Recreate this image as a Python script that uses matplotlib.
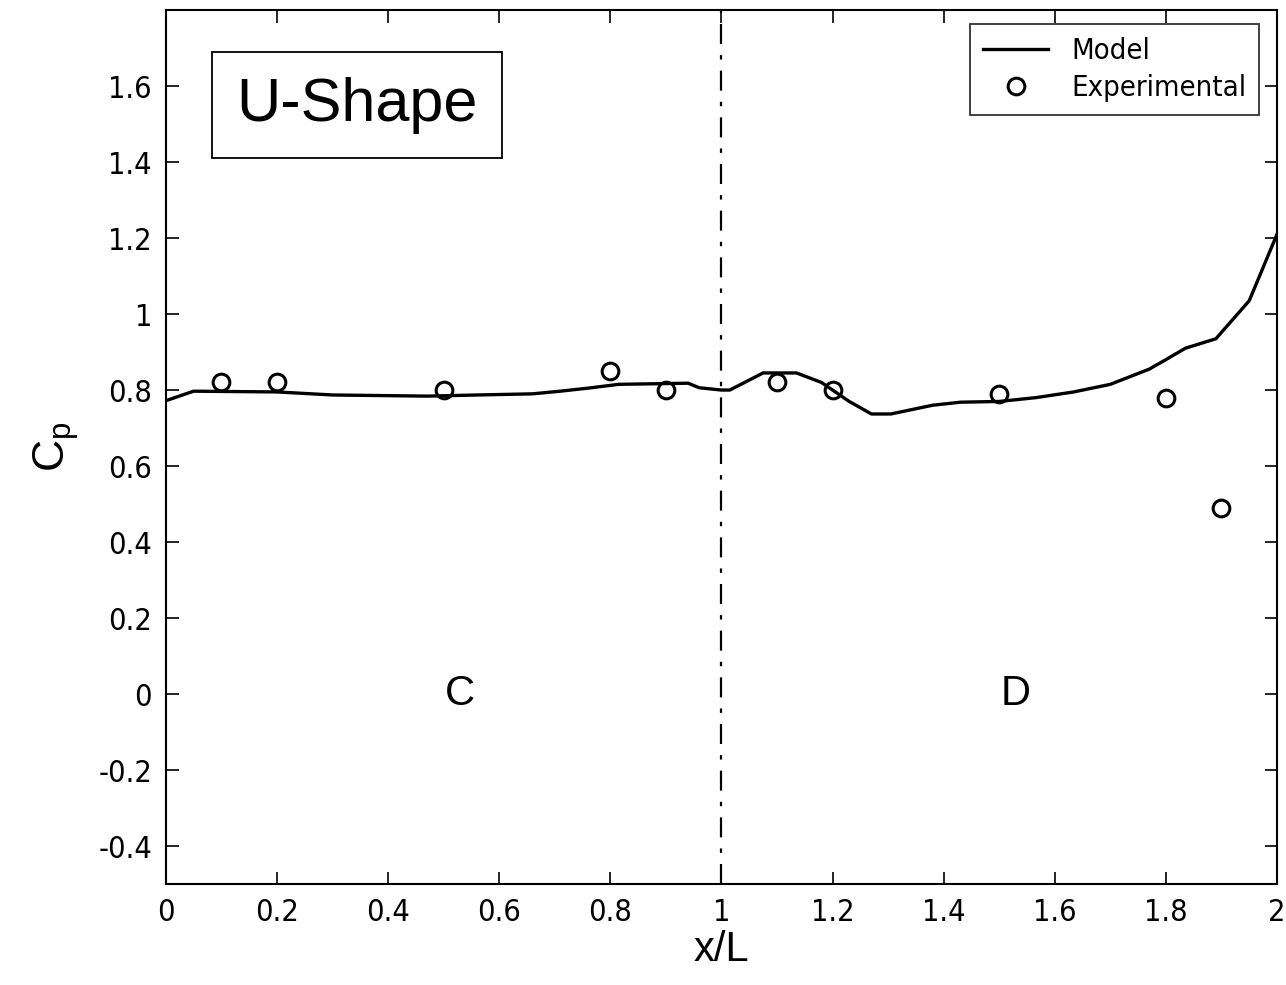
import matplotlib
matplotlib.use("Agg")
import matplotlib.pyplot as plt
from matplotlib.ticker import FuncFormatter

plt.rcParams['axes.unicode_minus'] = False
plt.rcParams['font.family'] = ['DejaVu Sans']
plt.rcParams['font.stretch'] = 'condensed'

# model curve
model_x = [0.0, 0.05, 0.2, 0.3, 0.47, 0.56, 0.66, 0.71, 0.76, 0.815, 0.94, 0.96, 1.0,
           1.015, 1.075, 1.135, 1.18, 1.23, 1.27, 1.305, 1.38, 1.43, 1.50, 1.566,
           1.634, 1.70, 1.77, 1.80, 1.835, 1.89, 1.95, 2.0]
model_cp = [0.772, 0.797, 0.795, 0.787, 0.784, 0.787, 0.79, 0.797, 0.805, 0.815, 0.818, 0.806, 0.80,
            0.80, 0.845, 0.845, 0.82, 0.77, 0.737, 0.737, 0.76, 0.768, 0.77, 0.78,
            0.795, 0.815, 0.855, 0.88, 0.91, 0.935, 1.035, 1.21]

# experimental points
exp_x = [0.1, 0.2, 0.5, 0.8, 0.9, 1.1, 1.2, 1.5, 1.8, 1.9]
exp_cp = [0.82, 0.82, 0.80, 0.85, 0.80, 0.82, 0.80, 0.79, 0.78, 0.49]

xticks = [0, 0.2, 0.4, 0.6, 0.8, 1, 1.2, 1.4, 1.6, 1.8, 2]
yticks = [-0.4, -0.2, 0, 0.2, 0.4, 0.6, 0.8, 1, 1.2, 1.4, 1.6]

arial = ['Liberation Sans', 'DejaVu Sans']

fig = plt.figure(figsize=(12.86, 9.85), dpi=100)
ax = fig.add_axes([0.129, 0.1025, 0.864, 0.8873])

ax.plot(model_x, model_cp, color='black', lw=2.4, label='Model')
ax.plot(exp_x, exp_cp, 'o', mfc='none', mec='black', mew=2.2, ms=12, label='Experimental')
ax.axvline(1.0, color='black', lw=1.6, ls=(0, (9, 5, 2, 5)))

ax.set_xlim(0, 2)
ax.set_ylim(-0.5, 1.8)
ax.set_xticks(xticks)
ax.set_yticks(yticks)
fmt = FuncFormatter(lambda v, p: ('%g' % round(v, 2)))
ax.xaxis.set_major_formatter(fmt)
ax.yaxis.set_major_formatter(fmt)
ax.tick_params(direction='in', length=9, width=1.2, top=True, right=True, labelsize=22, pad=10)
for lab in ax.get_xticklabels() + ax.get_yticklabels():
    lab.set_fontstretch('condensed')
for s in ax.spines.values():
    s.set_linewidth(1.5)

ax.set_xlabel('x/L', fontsize=30, family=arial, labelpad=2)
ax.set_ylabel('$\\mathregular{C_p}$', fontsize=32, family=arial, labelpad=12)

ax.text(0.53, 0.0, 'C', fontsize=30, ha='center', va='center', family=arial)
ax.text(1.53, 0.0, 'D', fontsize=30, ha='center', va='center', family=arial)

ax.text(0.344, 1.55, 'U-Shape', fontsize=44, ha='center', va='center', family=arial,
        bbox=dict(boxstyle='square,pad=0.4', fc='white', ec='black', lw=1.3))

leg = ax.legend(loc='upper right', bbox_to_anchor=(0.984, 0.984), borderaxespad=0, fontsize=21,
                frameon=True, fancybox=False, edgecolor='black', handlelength=2.2,
                borderpad=0.45, labelspacing=0.3, handletextpad=0.8)
leg.get_frame().set_linewidth(1.3)
for t in leg.get_texts():
    t.set_fontstretch('condensed')

fig.savefig('out.png', dpi=100)
